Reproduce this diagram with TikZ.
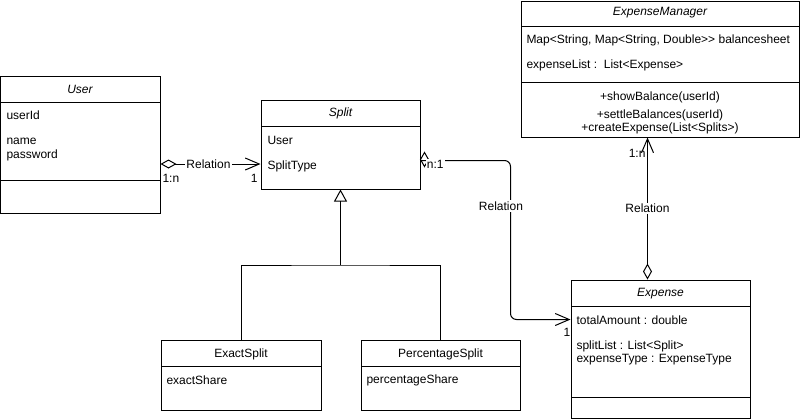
\documentclass[tikz,border=0pt]{standalone}
\usepackage{fontspec}
\setmainfont{Liberation Sans}
\usetikzlibrary{arrows.meta,fit}
\begin{document}
\begin{tikzpicture}[x=0.75pt,y=-0.75pt,line width=0.75pt,
  box/.style={draw,inner sep=0pt},
  txt/.style={font=\fontsize{9}{11}\selectfont,inner sep=0pt},
  lft/.style={txt,anchor=west},
  ttl/.style={font=\fontsize{9}{11}\selectfont\itshape,inner sep=0pt},
  lbl/.style={font=\fontsize{9}{11}\selectfont,fill=white,inner sep=1pt},
  mult/.style={font=\fontsize{9}{11}\selectfont,inner sep=0pt},
  assoc/.style={{Diamond[open,length=12pt,width=6.75pt]}-{Straight Barb[length=10.5pt,width=9pt]}},
  openarr/.style={-{Straight Barb[length=10.5pt,width=9pt]}},
  gen/.style={-{Triangle[open,length=9pt,width=9.75pt]}}
]
\useasboundingbox (0,0) rectangle (801,419);

% ---------- User ----------
\node[box,fit={(0.5,76)(160,213)}] (user) {};
\draw (0.5,102) -- (160,102);
\draw (0.5,180) -- (160,180);
\node[ttl] (userT) at (80,89) {User};
\node[lft] (userA1) at (6,115) {userId};
\node[lft] (userA2) at (6,141) {name};
\node[lft] (userA3) at (6,155) {password};

% ---------- Split ----------
\node[box,fit={(261,100)(420,189)}] (split) {};
\draw (261,126.5) -- (420,126.5);
\node[ttl] (splitT) at (340.5,113) {Split};
\node[lft] (splitA1) at (267,140) {User};
\node[lft] (splitA2) at (267,166) {SplitType};

% ---------- ExpenseManager ----------
\node[box,fit={(521,1)(799,137)}] (em) {};
\draw (521,26) -- (799,26);
\node[ttl] (emT) at (660,13) {ExpenseManager};
\node[lft] (emA1) at (526,40) {Map<String, Map<String, Double>{}> balancesheet};
\node[lft] (emA2) at (526,65) {expenseList :~~List<Expense>};
\draw (521,82) -- (799,82);
\node[txt] (emM1) at (660,97) {+showBalance(userId)};
\node[txt] (emM2) at (660,115) {+settleBalances(userId)};
\node[txt] (emM3) at (660,128) {+createExpense(List<Splits>)};

% ---------- Expense ----------
\node[box,fit={(571,280)(750,418)}] (exp) {};
\draw (571,306) -- (750,306);
\draw (571,397) -- (750,397);
\node[ttl] (expT) at (660.5,294) {Expense};
\node[lft] (expA1) at (576,320) {totalAmount : double};
\node[lft] (expA2) at (576,346) {splitList : List<Split>};
\node[lft] (expA3) at (576,360) {expenseType : ExpenseType};

% ---------- ExactSplit ----------
\node[box,fit={(161,340)(321,410)}] (exact) {};
\draw (161,366) -- (321,366);
\node[txt] (exactT) at (241,354) {ExactSplit};
\node[lft] (exactA1) at (166,380) {exactShare};

% ---------- PercentageSplit ----------
\node[box,fit={(361,340)(520,410)}] (perc) {};
\draw (361,366) -- (520,366);
\node[txt] (percT) at (440.5,354) {PercentageSplit};
\node[lft] (percA1) at (366,380) {percentageShare};

% ---------- Generalization ----------
\coordinate (junc) at (340.5,265);
\draw (exact.north) |- (junc) -| (perc.north);
\draw[gen] (junc) -- (split.south);

% ---------- User -> Split ----------
\coordinate (r1) at (0,164);
\draw[assoc] (user.east |- r1) -- (split.west |- r1)
  node[lbl,pos=0.48] (rel1) {Relation};
\node[mult,anchor=west] (m1) at (162,178) {1:n};
\node[mult,anchor=east] (m2) at (258,178) {1};

% ---------- Split -> Expense ----------
\coordinate (r2) at (0,160.5);
\coordinate (r3) at (0,319.5);
\coordinate (bend1) at (510.5,160.5);
\coordinate (bend2) at (510.5,319.5);
\draw[openarr,rounded corners=4.5pt] (split.east |- r2) -- (bend1) -- (bend2) -- (exp.west |- r3);
\draw (424.5,152.5) -- (428.5,159.5) -- (424.5,166.5) -- (420.5,159.5) -- cycle;
\node[mult,fill=white,anchor=west,inner sep=1pt] (m3) at (425,164.5) {n:1};
\node[lbl] (rel2) at (501,206) {Relation};
\node[mult] (m4) at (567,332) {1};

% ---------- Expense -> ExpenseManager ----------
\coordinate (r4) at (647.5,0);
\draw[assoc] (exp.north -| r4) -- (em.south -| r4)
  node[lbl,pos=0.5] (rel3) {Relation};
\node[mult,anchor=east] (m5) at (646,153) {1:n};
\end{tikzpicture}
\end{document}
